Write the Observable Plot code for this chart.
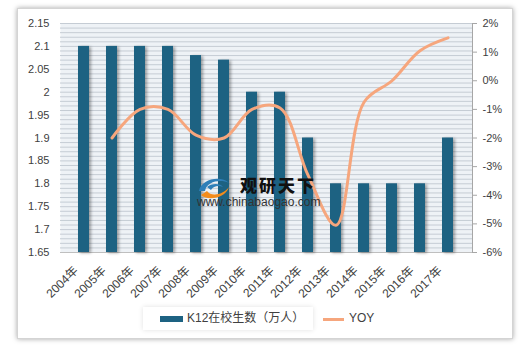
<!DOCTYPE html>
<html>
<head>
<meta charset="utf-8">
<script src="https://cdn.jsdelivr.net/npm/d3@7"></script>
<script src="https://cdn.jsdelivr.net/npm/@observablehq/plot@0.6"></script>
<style>
  html, body { margin: 0; padding: 0; background: #ffffff; }
  body { width: 520px; height: 351px; position: relative; overflow: hidden;
         font-family: "Liberation Sans", "Noto Sans CJK SC", sans-serif; }
  #panel { position: absolute; left: 17px; top: 8px; width: 494px; height: 329px;
           background: #fff; border: 1px solid #d4d4d4; box-shadow: 0 0 5px rgba(0,0,0,0.35); }
  #chart { position: absolute; left: 0; top: 0; z-index: 1; }
  #legend { position: absolute; left: 143px; top: 307px; width: 170px; height: 23px;
            background: #fff; box-shadow: 0 0 5px rgba(0,0,0,0.12); z-index: 2; }
  .lg { position: absolute; font-size: 12px; color: #404040; white-space: nowrap; line-height: 14px; z-index: 3; }
  #wm { position: absolute; left: 195px; top: 168px; width: 150px; height: 45px; pointer-events: none; z-index: 5; }
</style>
</head>
<body>
<div id="panel"></div>
<div id="chart"></div>
<div id="legend"></div>
<div class="lg" style="left:160px;top:316px;width:23px;height:6px;background:#1d6282;"></div>
<div class="lg" style="left:187px;top:311px;">K12在校生数（万人）</div>
<div class="lg" style="left:323px;top:318px;width:21px;height:3px;background:#f6a67d;"></div>
<div class="lg" style="left:349px;top:311px;">YOY</div>
<div id="wm">
  <svg width="38" height="28" style="position:absolute;left:0;top:5px;" viewBox="0 0 38 28">
    <path d="M4 18 C 6 6, 26 2, 34 10 C 26 6, 12 8, 10 18 Z" fill="#2f7fb8"/>
    <path d="M6 22 C 12 28, 30 26, 34 14 C 28 22, 16 24, 12 18 Z" fill="#f28c1c"/>
    <path d="M12 14 C 16 10, 26 10, 28 14 C 24 12, 18 13, 16 17 Z" fill="#2f7fb8"/>
  </svg>
  <div style="position:absolute;left:45px;top:4px;font-family:'Noto Sans CJK SC';font-weight:900;font-size:17px;letter-spacing:2px;color:#111;">观研天下</div>
  <div style="position:absolute;left:2px;top:27px;font-family:'Liberation Sans';font-size:12px;color:#333;">www.chinabaogao.com</div>
</div>
<script>
const years = ["2004年","2005年","2006年","2007年","2008年","2009年","2010年","2011年","2012年","2013年","2014年","2015年","2016年","2017年"];
const students = [2.1, 2.1, 2.1, 2.1, 2.08, 2.07, 2.0, 2.0, 1.9, 1.8, 1.8, 1.8, 1.8, 1.9];
const yoyYears = ["2005年","2006年","2007年","2008年","2009年","2010年","2011年","2012年","2013年","2014年","2015年","2016年","2017年"];
const yoy = [-2.0, -1.0, -1.0, -1.9, -2.0, -1.0, -0.95, -3.3, -5.05, -0.75, 0.0, 1.05, 1.5];
const leftTicks = [1.65, 1.7, 1.75, 1.8, 1.85, 1.9, 1.95, 2.0, 2.05, 2.1, 2.15];
const rightTicks = [-6, -5, -4, -3, -2, -1, 0, 1, 2];

const yMin = 1.65, yMax = 2.15, rMin = -6, rMax = 2;
const toLeft = v => yMin + (v - rMin) / (rMax - rMin) * (yMax - yMin);
const toRight = y => (y - yMin) / (yMax - yMin) * (rMax - rMin) + rMin;

const barData = years.map((year, i) => ({year, value: students[i]}));
const lineData = yoyYears.map((year, i) => ({year, value: toLeft(yoy[i])}));
const gridVals = d3.range(0, 51).map(i => yMin + i * 0.01);

const chart = Plot.plot({
  width: 520,
  height: 300,
  marginTop: 23,
  marginBottom: 48,
  marginLeft: 60,
  marginRight: 48,
  style: {background: "transparent", fontFamily: "'Liberation Sans', 'Noto Sans CJK SC', sans-serif", color: "#404040"},
  x: {domain: years, padding: 0.6, label: null},
  y: {domain: [yMin, yMax], label: null},
  marks: [
    Plot.frame({fill: "#eef2f6", stroke: null}),
    Plot.ruleY(gridVals, {stroke: "#c5ccd4", strokeWidth: 1}),
    Plot.ruleY([yMin], {stroke: "#bfbfbf"}),
    Plot.barY(barData, {x: "year", y1: () => yMin, y2: "value", fill: "#1d6282"}),
    Plot.line(lineData, {x: "year", y: "value", stroke: "#f6a67d", strokeWidth: 3, curve: "catmull-rom"}),
    Plot.axisY({ticks: leftTicks, tickFormat: d => String(+d.toFixed(2)), tickSize: 0, tickPadding: 11, fontSize: 11, label: null}),
    Plot.axisY({anchor: "right", ticks: rightTicks.map(toLeft), tickFormat: d => Math.round(toRight(d)) + "%", tickSize: 4, tickPadding: 6, stroke: "#a6a6a6", fontSize: 11, label: null}),
    Plot.frame({anchor: "right", stroke: "#a6a6a6"}),
    Plot.axisX({tickRotate: -45, tickSize: 0, tickPadding: 16, dx: -8, fontSize: 12, label: null})
  ]
});
chart.querySelectorAll('g[aria-label="bar"] rect').forEach(r => r.style.filter = "drop-shadow(2px 1px 1.5px rgba(0,0,0,0.35))");
document.getElementById("chart").appendChild(chart);
</script>
</body>
</html>
